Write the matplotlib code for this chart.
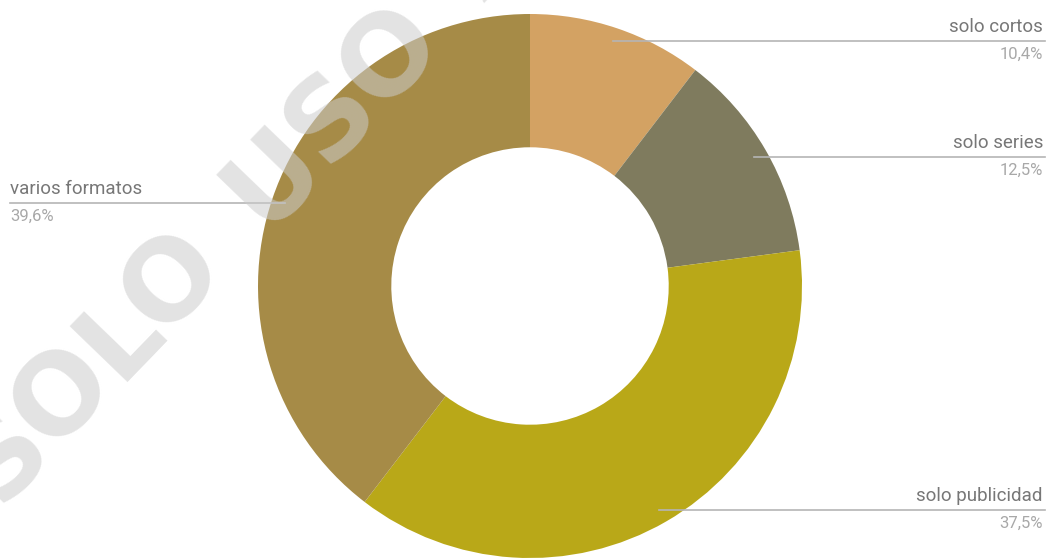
import numpy as np
import matplotlib
matplotlib.use("Agg")
import matplotlib.pyplot as plt

# Data
labels = ["solo cortos", "solo series", "solo publicidad", "varios formatos"]
values = [10.4, 12.5, 37.5, 39.6]
pct_labels = ["10,4%", "12,5%", "37,5%", "39,6%"]
colors = ["#D3A263", "#7F7B5E", "#B9A818", "#A68B47"]

W, H = 1048, 558
plt.rcParams["font.family"] = ["Roboto", "DejaVu Sans"]

fig = plt.figure(figsize=(W / 100, H / 100), dpi=100)
ax = fig.add_axes([0, 0, 1, 1])

cx, cy, R = 530, H - 286, 272
wedges, _ = ax.pie(values, colors=colors, startangle=90, counterclock=False,
                   radius=R, center=(cx, cy),
                   wedgeprops=dict(width=R * 0.49, linewidth=0))
ax.set_xlim(0, W)
ax.set_ylim(0, H)
ax.set_aspect("equal")
ax.axis("off")

# label lines + texts
for w, lab, pct in zip(wedges, labels, pct_labels):
    ang = np.deg2rad((w.theta1 + w.theta2) / 2)
    x0 = cx + 0.95 * R * np.cos(ang)
    y0 = cy + 0.95 * R * np.sin(ang)
    if np.cos(ang) >= 0:
        x1, ha, tx = W - 3, "right", W - 5
    else:
        x1, ha, tx = 10, "left", 10
    ax.plot([x0, x1], [y0, y0], color="#b5b5b5", lw=1.2, zorder=3)
    ax.text(tx, y0 + 5, lab, ha=ha, va="bottom", fontsize=13.5,
            color="#777777", zorder=4)
    ax.text(tx, y0 - 6, pct, ha=ha, va="top", fontsize=12,
            color="#a8a8a8", zorder=4)

# watermark, letter-spaced along a diagonal
wm_text = "SOLO USO ACADÉMICO"
theta = np.deg2rad(46)
ux, uy = np.cos(theta), np.sin(theta)
s = 0.0
x_start, y_start = 4, H - 456
for ch in wm_text:
    if ch == " ":
        s += 62
        continue
    ax.text(x_start + s * ux, y_start + s * uy, ch, rotation=46,
            ha="center", va="center", fontsize=80, fontweight="bold",
            family="DejaVu Sans", color="#cccccc", alpha=0.55, zorder=5)
    s += 84 if ch != "L" else 74

fig.savefig("out.png", dpi=100)
